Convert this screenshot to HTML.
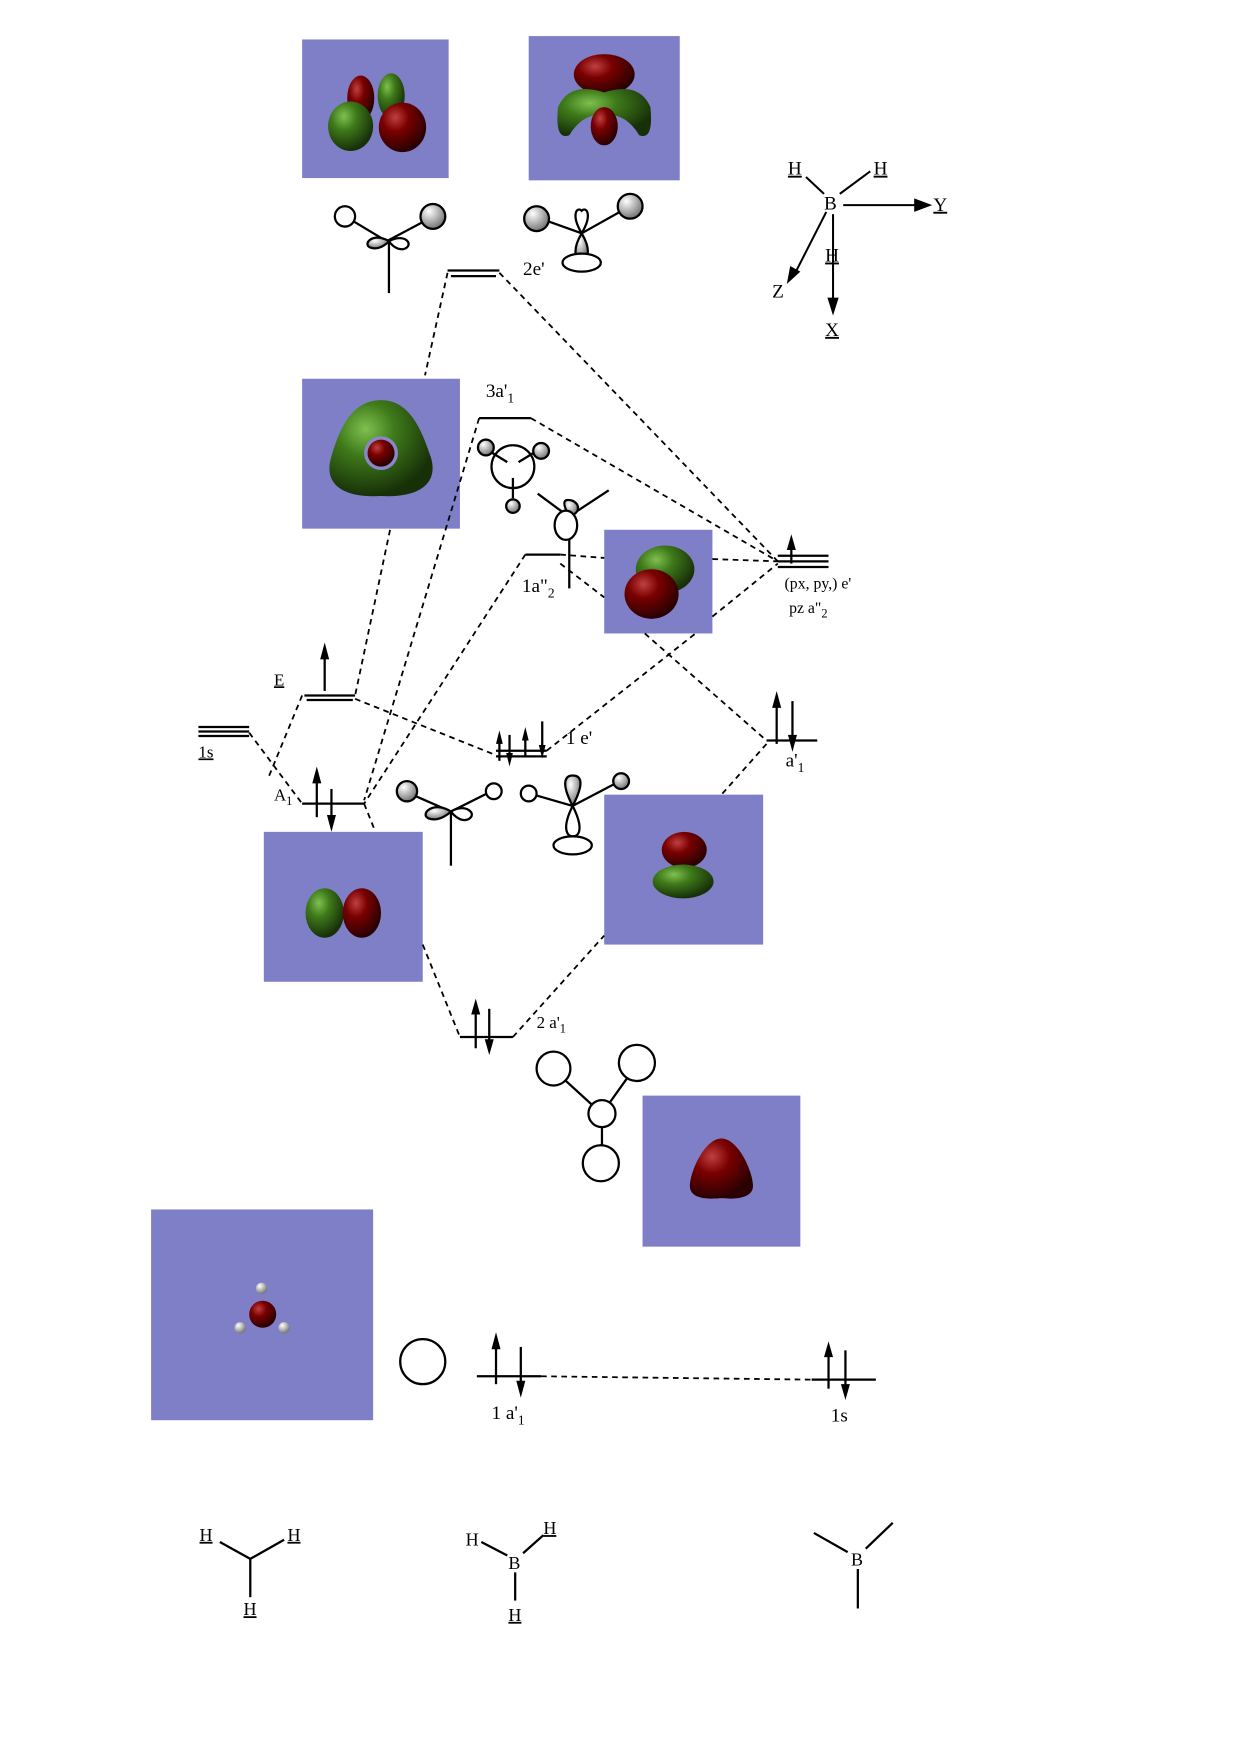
<!DOCTYPE html>
<html><head><meta charset="utf-8"><style>
html,body{margin:0;padding:0;background:#fff}
svg{display:block}
text{font-family:"Liberation Serif",serif;fill:#000}
</style></head><body>
<svg width="1240" height="1755" viewBox="0 0 1100 1557" xmlns="http://www.w3.org/2000/svg">
<defs>
<radialGradient id="r" cx="35%" cy="30%" r="70%"><stop offset="0" stop-color="#c04040"/><stop offset="0.4" stop-color="#7a0000"/><stop offset="1" stop-color="#2a0000"/></radialGradient>
<radialGradient id="g" cx="35%" cy="30%" r="70%"><stop offset="0" stop-color="#7fc050"/><stop offset="0.4" stop-color="#3f7a1a"/><stop offset="1" stop-color="#173008"/></radialGradient>
<radialGradient id="w" cx="35%" cy="30%" r="70%"><stop offset="0" stop-color="#fff"/><stop offset="1" stop-color="#777"/></radialGradient>
</defs>
<g fill="#7f7fc8">
<rect x="268" y="35" width="130" height="123"/>
<rect x="469" y="32" width="134" height="128"/>
<rect x="268" y="336" width="140" height="133"/>
<rect x="536" y="470" width="96" height="92"/>
<rect x="234" y="738" width="141" height="133"/>
<rect x="536" y="705" width="141" height="133"/>
<rect x="570" y="972" width="140" height="134"/>
<rect x="134" y="1073" width="197" height="187"/>
</g>
<!-- orbitals -->
<ellipse cx="320" cy="87" rx="12" ry="20" fill="url(#r)"/>
<ellipse cx="347" cy="85" rx="12" ry="20" fill="url(#g)"/>
<ellipse cx="311" cy="112" rx="20" ry="22" fill="url(#g)"/>
<ellipse cx="357" cy="113" rx="21" ry="22" fill="url(#r)"/>
<ellipse cx="536" cy="66" rx="27" ry="18" fill="url(#r)"/>
<path d="M495 95 Q505 72 536 82 Q567 72 577 95 Q580 125 567 120 Q555 100 536 102 Q517 100 505 120 Q492 125 495 95Z" fill="url(#g)"/>
<ellipse cx="536" cy="112" rx="12" ry="17" fill="url(#r)"/>
<path d="M338 355 C365 355 375 385 382 405 C390 430 370 442 338 440 C305 442 286 430 294 405 C300 385 310 355 338 355Z" fill="url(#g)"/>
<circle cx="338" cy="402" r="15" fill="#8888c8"/>
<circle cx="338" cy="402" r="12" fill="url(#r)"/>
<ellipse cx="590" cy="505" rx="26" ry="21" fill="url(#g)"/>
<ellipse cx="578" cy="527" rx="24" ry="22" fill="url(#r)"/>
<ellipse cx="288" cy="810" rx="17" ry="22" fill="url(#g)"/>
<ellipse cx="321" cy="810" rx="17" ry="22" fill="url(#r)"/>
<ellipse cx="607" cy="754" rx="20" ry="16" fill="url(#r)"/>
<ellipse cx="606" cy="782" rx="27" ry="15" fill="url(#g)"/>
<path d="M640 1010 C655 1010 668 1040 668 1052 C668 1064 650 1064 640 1063 C628 1064 612 1064 612 1052 C612 1040 625 1010 640 1010Z" fill="url(#r)"/>
<circle cx="233" cy="1166" r="12" fill="url(#r)"/>
<circle cx="232" cy="1143" r="5" fill="url(#w)"/><circle cx="213" cy="1178" r="5" fill="url(#w)"/><circle cx="252" cy="1178" r="5" fill="url(#w)"/>
<!-- levels -->
<g stroke="#000" stroke-width="2" fill="none">
<line x1="397" y1="240" x2="443" y2="240"/><line x1="400" y1="245" x2="440" y2="245"/>
<line x1="425" y1="371" x2="471" y2="371"/>
<line x1="466" y1="492" x2="497" y2="492"/>
<line x1="690" y1="493" x2="735" y2="493"/><line x1="690" y1="498" x2="735" y2="498"/><line x1="690" y1="503" x2="735" y2="503"/>
<line x1="270" y1="617" x2="315" y2="617"/><line x1="272" y1="621" x2="313" y2="621"/>
<line x1="176" y1="645" x2="221" y2="645"/><line x1="176" y1="649" x2="221" y2="649"/><line x1="176" y1="653" x2="221" y2="653"/>
<line x1="268" y1="713" x2="323" y2="713"/>
<line x1="440" y1="666" x2="485" y2="666"/><line x1="440" y1="671" x2="485" y2="671"/>
<line x1="680" y1="657" x2="725" y2="657"/>
<line x1="408" y1="920" x2="455" y2="920"/>
<line x1="423" y1="1221" x2="480" y2="1221"/>
<line x1="720" y1="1224" x2="777" y2="1224"/>
</g>
<!-- arrows -->
<g stroke="#000" stroke-width="2">
<line x1="702" y1="500" x2="702" y2="480"/>
<line x1="288" y1="613" x2="288" y2="578"/>
<line x1="281" y1="725" x2="281" y2="688"/><line x1="294" y1="700" x2="294" y2="730"/>
<line x1="443" y1="675" x2="443" y2="655"/><line x1="452" y1="652" x2="452" y2="675"/><line x1="466" y1="672" x2="466" y2="652"/><line x1="481" y1="640" x2="481" y2="668"/>
<line x1="689" y1="660" x2="689" y2="620"/><line x1="703" y1="622" x2="703" y2="660"/>
<line x1="422" y1="930" x2="422" y2="892"/><line x1="434" y1="895" x2="434" y2="930"/>
<line x1="440" y1="1228" x2="440" y2="1188"/><line x1="462" y1="1195" x2="462" y2="1233"/>
<line x1="735" y1="1232" x2="735" y2="1195"/><line x1="750" y1="1198" x2="750" y2="1235"/>
</g>
<g fill="#000">
<path d="M702 474 l-4 14 h8z"/><path d="M288 570 l-4 15 h8z"/><path d="M281 680 l-4 15 h8z"/><path d="M294 738 l-4 -15 h8z"/>
<path d="M443 648 l-3 12 h6z"/><path d="M452 680 l-3 -12 h6z"/><path d="M466 645 l-3 12 h6z"/><path d="M481 673 l-3 -12 h6z"/>
<path d="M689 613 l-4 15 h8z"/><path d="M703 667 l-4 -15 h8z"/>
<path d="M422 886 l-4 14 h8z"/><path d="M434 936 l-4 -14 h8z"/>
<path d="M440 1182 l-4 15 h8z"/><path d="M462 1240 l-4 -15 h8z"/>
<path d="M735 1190 l-4 14 h8z"/><path d="M750 1242 l-4 -14 h8z"/>
</g>
<!-- dashed connectors -->
<g stroke="#000" stroke-width="1.6" stroke-dasharray="5,4" fill="none">
<line x1="397" y1="242" x2="377" y2="333"/>
<line x1="443" y1="242" x2="690" y2="498"/>
<line x1="471" y1="371" x2="690" y2="498"/>
<line x1="425" y1="371" x2="323" y2="710"/>
<line x1="346" y1="470" x2="315" y2="617"/>
<line x1="466" y1="492" x2="323" y2="713"/>
<line x1="497" y1="492" x2="536" y2="495"/>
<line x1="632" y1="496" x2="690" y2="498"/>
<line x1="497" y1="500" x2="536" y2="530"/>
<line x1="315" y1="620" x2="440" y2="670"/>
<line x1="485" y1="666" x2="617" y2="562"/>
<line x1="632" y1="547" x2="690" y2="500"/>
<line x1="572" y1="562" x2="680" y2="657"/>
<line x1="680" y1="660" x2="640" y2="705"/>
<line x1="221" y1="650" x2="268" y2="713"/>
<line x1="268" y1="617" x2="238" y2="690"/>
<line x1="323" y1="713" x2="333" y2="738"/>
<line x1="375" y1="838" x2="408" y2="920"/>
<line x1="455" y1="920" x2="536" y2="830"/>
<line x1="480" y1="1221" x2="720" y2="1224"/>
</g>
<!-- labels -->
<g font-size="17">
<text x="464" y="244">2e'</text>
<text x="431" y="352">3a'<tspan font-size="12" dy="5">1</tspan></text>
<text x="463" y="525">1a"<tspan font-size="12" dy="5">2</tspan></text>
<text x="696" y="522" font-size="14">(px, py,) e'</text>
<text x="700" y="544" font-size="14">pz a"<tspan font-size="11" dy="4">2</tspan></text>
<text x="243" y="608" font-size="15" text-decoration="underline">E</text>
<text x="176" y="672" font-size="15" text-decoration="underline">1s</text>
<text x="243" y="710" font-size="15">A<tspan font-size="11" dy="4">1</tspan></text>
<text x="502" y="660">1 e'</text>
<text x="697" y="680">a'<tspan font-size="12" dy="5">1</tspan></text>
<text x="476" y="912" font-size="15">2 a'<tspan font-size="11" dy="4">1</tspan></text>
<text x="436" y="1259">1 a'<tspan font-size="12" dy="5">1</tspan></text>
<text x="737" y="1261">1s</text>
</g>
<!-- axes -->
<g stroke="#000" stroke-width="1.8" fill="none">
<line x1="715" y1="157" x2="731" y2="172"/><line x1="745" y1="172" x2="772" y2="152"/>
<line x1="748" y1="182" x2="815" y2="182"/><line x1="733" y1="188" x2="705" y2="243"/>
<line x1="739" y1="190" x2="739" y2="268"/>
</g>
<g fill="#000"><path d="M827 182 l-16 -6 v12z"/><path d="M698 252 l3 -16 9 5z"/><path d="M739 280 l-5 -16 h10z"/></g>
<g font-size="17" font-family="Liberation Sans">
<text x="699" y="155" font-family="Liberation Sans" text-decoration="underline">H</text>
<text x="775" y="155" text-decoration="underline">H</text>
<text x="731" y="186" font-family="Liberation Sans">B</text>
<text x="732" y="232" text-decoration="underline">H</text>
<text x="828" y="187" text-decoration="underline">Y</text>
<text x="685" y="264">Z</text>
<text x="732" y="298" text-decoration="underline">X</text>
</g>
<!-- small molecule sketches -->
<g stroke="#000" stroke-width="2" fill="none">
<line x1="313" y1="196" x2="343" y2="214"/><line x1="343" y1="214" x2="377" y2="196"/><line x1="345" y1="214" x2="345" y2="260"/>
<circle cx="306" cy="192" r="9" fill="#fff"/><circle cx="384" cy="192" r="11" fill="url(#w)"/>
<path d="M345 214 C330 205 320 218 330 220 C338 222 345 214 345 214Z" fill="url(#w)"/><path d="M345 214 C360 206 368 218 358 221 C350 222 345 214 345 214Z" fill="#fff"/>
<line x1="477" y1="193" x2="516" y2="207"/><line x1="516" y1="207" x2="557" y2="184"/>
<circle cx="476" cy="194" r="11" fill="url(#w)"/><circle cx="559" cy="183" r="11" fill="url(#w)"/>
<path d="M516 207 C506 190 512 183 516 187 C520 183 526 190 516 207Z" fill="#fff"/>
<path d="M516 207 C506 224 512 232 516 230 C520 232 526 224 516 207Z" fill="url(#w)"/>
<ellipse cx="516" cy="233" rx="17" ry="8" fill="#fff"/>
<circle cx="455" cy="414" r="19"/><line x1="437" y1="402" x2="450" y2="410"/><line x1="473" y1="402" x2="460" y2="410"/><line x1="455" y1="424" x2="455" y2="442"/>
<circle cx="431" cy="397" r="7" fill="url(#w)"/><circle cx="480" cy="400" r="7" fill="url(#w)"/><circle cx="455" cy="449" r="6" fill="url(#w)"/>
<line x1="477" y1="438" x2="500" y2="455"/><line x1="505" y1="458" x2="540" y2="435"/>
<path d="M505 458 C496 442 503 443 507 444 C514 446 516 455 505 458Z" fill="url(#w)"/>
<ellipse cx="502" cy="466" rx="10" ry="13" fill="#fff"/><line x1="505" y1="479" x2="505" y2="522"/>
<line x1="368" y1="706" x2="400" y2="720"/><line x1="400" y1="720" x2="432" y2="704"/><line x1="400" y1="720" x2="400" y2="768"/>
<circle cx="361" cy="702" r="9" fill="url(#w)"/><circle cx="438" cy="702" r="7" fill="#fff"/>
<path d="M400 720 C385 710 372 722 380 726 C390 730 400 720 400 720Z" fill="url(#w)"/><path d="M400 720 C412 712 425 722 415 727 C407 730 400 720 400 720Z" fill="#fff"/>
<line x1="470" y1="704" x2="508" y2="715"/><line x1="508" y1="715" x2="548" y2="694"/>
<circle cx="469" cy="704" r="7" fill="#fff"/><circle cx="551" cy="693" r="7" fill="url(#w)"/>
<path d="M508 715 C496 692 503 688 508 688 C514 688 520 692 508 715Z" fill="url(#w)"/>
<path d="M508 715 C498 735 503 742 508 742 C514 742 518 735 508 715Z" fill="#fff"/>
<ellipse cx="508" cy="750" rx="17" ry="8" fill="#fff"/>
<circle cx="491" cy="948" r="15"/><circle cx="565" cy="943" r="16"/><circle cx="534" cy="988" r="12"/><circle cx="533" cy="1032" r="16"/>
<line x1="502" y1="959" x2="525" y2="980"/><line x1="556" y1="957" x2="541" y2="978"/><line x1="534" y1="1000" x2="534" y2="1016"/>
<circle cx="375" cy="1208" r="20"/>
<line x1="195" y1="1368" x2="222" y2="1383"/><line x1="222" y1="1383" x2="252" y2="1366"/><line x1="222" y1="1383" x2="222" y2="1417"/>
<line x1="427" y1="1368" x2="450" y2="1380"/><line x1="464" y1="1378" x2="482" y2="1362"/><line x1="457" y1="1395" x2="457" y2="1420"/>
<line x1="722" y1="1360" x2="752" y2="1377"/><line x1="768" y1="1374" x2="792" y2="1351"/><line x1="761" y1="1392" x2="761" y2="1427"/>
</g>
<g font-size="16" font-family="Liberation Sans">
<text x="177" y="1367" text-decoration="underline">H</text><text x="255" y="1367" text-decoration="underline">H</text><text x="216" y="1433" text-decoration="underline">H</text>
<text x="413" y="1371">H</text><text x="482" y="1361" text-decoration="underline">H</text><text x="451" y="1392">B</text><text x="451" y="1438" text-decoration="underline">H</text>
<text x="755" y="1389">B</text>
</g>
</svg>
</body></html>
